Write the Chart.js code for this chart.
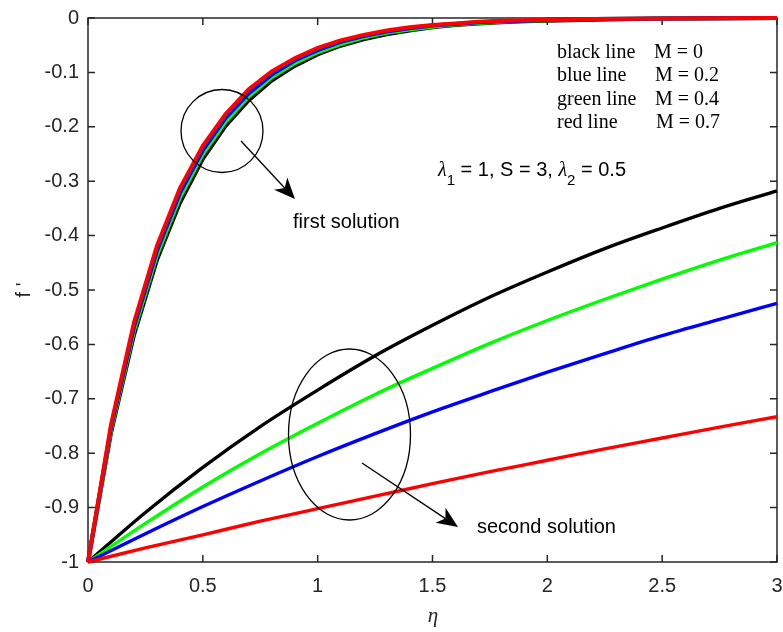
<!DOCTYPE html>
<html>
<head>
<meta charset="utf-8">
<script src="https://cdn.jsdelivr.net/npm/chart.js@4.4.1/dist/chart.umd.min.js"></script>
<style>
  body { margin: 0; background: #fff; }
  #wrap { width: 783px; height: 632px; }
</style>
</head>
<body>
<div id="wrap"><canvas id="myChart"></canvas></div>
<script>
// eta values for the first solution (polyline, 0.1 steps)
const eta1 = [0, 0.1, 0.2, 0.3, 0.4, 0.5, 0.6, 0.7, 0.8, 0.9, 1.0, 1.1, 1.2, 1.3, 1.4, 1.5, 1.6, 1.7, 1.8, 1.9, 2.0, 2.2, 2.5, 3.0];
const black1 = [-1, -0.763, -0.583, -0.445, -0.340, -0.259, -0.198, -0.151, -0.115, -0.088, -0.067, -0.051, -0.039, -0.030, -0.023, -0.017, -0.013, -0.010, -0.008, -0.006, -0.005, -0.003, -0.001, 0];
const green1 = [-1, -0.758, -0.575, -0.436, -0.330, -0.250, -0.190, -0.144, -0.109, -0.083, -0.063, -0.048, -0.036, -0.027, -0.021, -0.016, -0.012, -0.009, -0.007, -0.005, -0.004, -0.002, -0.001, 0];
const blue1 = [-1, -0.753, -0.568, -0.428, -0.322, -0.243, -0.183, -0.138, -0.104, -0.078, -0.059, -0.044, -0.033, -0.025, -0.019, -0.014, -0.011, -0.008, -0.006, -0.005, -0.003, -0.002, -0.001, 0];
const red1 = [-1, -0.748, -0.560, -0.419, -0.313, -0.235, -0.176, -0.131, -0.098, -0.074, -0.055, -0.041, -0.031, -0.023, -0.017, -0.013, -0.010, -0.007, -0.005, -0.004, -0.003, -0.002, -0.001, 0];

// second solution
const eta2 = [0, 0.25, 0.5, 0.75, 1.0, 1.25, 1.5, 1.75, 2.0, 2.25, 2.5, 2.75, 3.0];
const black2 = [-1, -0.909, -0.826, -0.751, -0.684, -0.621, -0.565, -0.513, -0.467, -0.424, -0.386, -0.350, -0.318];
const green2 = [-1, -0.929, -0.862, -0.801, -0.745, -0.692, -0.644, -0.598, -0.556, -0.517, -0.480, -0.445, -0.413];
const blue2 = [-1, -0.948, -0.898, -0.851, -0.806, -0.764, -0.724, -0.687, -0.651, -0.617, -0.584, -0.554, -0.5245];
const red2 = [-1, -0.974, -0.950, -0.925, -0.902, -0.879, -0.856, -0.834, -0.813, -0.792, -0.772, -0.752, -0.733];

const xTickLabels = ["0", "0.5", "1", "1.5", "2", "2.5", "3"];
const yTickLabels = ["-1", "-0.9", "-0.8", "-0.7", "-0.6", "-0.5", "-0.4", "-0.3", "-0.2", "-0.1", "0"];

const legendLines = [["black line", "M = 0"], ["blue line", "M = 0.2"], ["green line", "M = 0.4"], ["red line", "M = 0.7"]];

const axisColor = "#262626";

function puntos(xs, ys) {
  return xs.map((x, i) => ({ x: x, y: ys[i] }));
}

function serie(xs, ys, color, width, orden, smooth) {
  return {
    data: puntos(xs, ys),
    borderColor: color,
    backgroundColor: color,
    borderWidth: width,
    pointRadius: 0,
    tension: smooth ? 0.4 : 0,
    cubicInterpolationMode: smooth ? "monotone" : "default",
    order: orden,
    clip: false
  };
}

const marco = {
  id: "marco",
  beforeDatasetsDraw(chart) {
    const { ctx, chartArea: a, scales } = chart;
    ctx.save();
    ctx.strokeStyle = axisColor;
    ctx.lineWidth = 1.5;
    ctx.strokeRect(a.left, a.top, a.right - a.left, a.bottom - a.top);
    ctx.beginPath();
    scales.x.ticks.forEach(t => {
      const px = scales.x.getPixelForValue(t.value);
      ctx.moveTo(px, a.bottom); ctx.lineTo(px, a.bottom - 7);
      ctx.moveTo(px, a.top); ctx.lineTo(px, a.top + 7);
    });
    scales.y.ticks.forEach(t => {
      const py = scales.y.getPixelForValue(t.value);
      ctx.moveTo(a.left, py); ctx.lineTo(a.left + 7, py);
      ctx.moveTo(a.right, py); ctx.lineTo(a.right - 7, py);
    });
    ctx.stroke();
    ctx.restore();
  }
};

function flecha(ctx, x0, y0, x1, y1) {
  const ang = Math.atan2(y1 - y0, x1 - x0);
  const len = 21, half = 9;
  const bx = x1 - len * Math.cos(ang), by = y1 - len * Math.sin(ang);
  const nx = x1 - 0.72 * len * Math.cos(ang), ny = y1 - 0.72 * len * Math.sin(ang);
  ctx.beginPath();
  ctx.moveTo(x0, y0);
  ctx.lineTo(nx, ny);
  ctx.stroke();
  ctx.beginPath();
  ctx.moveTo(x1, y1);
  ctx.lineTo(bx + half * Math.sin(ang), by - half * Math.cos(ang));
  ctx.lineTo(nx, ny);
  ctx.lineTo(bx - half * Math.sin(ang), by + half * Math.cos(ang));
  ctx.closePath();
  ctx.fill();
}

const notas = {
  id: "notas",
  afterDraw(chart) {
    const ctx = chart.ctx;
    ctx.save();
    ctx.strokeStyle = "#000";
    ctx.fillStyle = "#000";
    ctx.lineWidth = 1.3;

    // circle around first solution
    ctx.beginPath();
    ctx.ellipse(222, 131, 41, 41.5, 0, 0, Math.PI * 2);
    ctx.stroke();
    flecha(ctx, 241, 141, 295, 199);

    // ellipse around second solution
    ctx.beginPath();
    ctx.ellipse(349.5, 434.5, 61, 85.5, 0, 0, Math.PI * 2);
    ctx.stroke();
    flecha(ctx, 362, 463, 458, 527);

    ctx.textBaseline = "alphabetic";
    ctx.textAlign = "left";
    ctx.font = "20px 'Liberation Sans', Arial, sans-serif";
    ctx.fillText("first solution", 293, 227.5);
    ctx.fillText("second solution", 477, 532.5);

    // legend text block
    ctx.font = "20px 'Liberation Serif', 'Times New Roman', serif";
    const bases = [57.5, 81, 104.5, 128];
    const mx = [654, 655, 655, 656];
    legendLines.forEach((l, i) => {
      ctx.fillText(l[0], 557, bases[i]);
      ctx.fillText(l[1], mx[i], bases[i]);
    });

    // parameter line
    let x = 438;
    const base = 176;
    const parts = [
      ["λ", "italic 20px 'Liberation Serif', serif", 0],
      ["1", "15px 'Liberation Sans', sans-serif", 9],
      [" = 1, S = 3, ", "20px 'Liberation Sans', sans-serif", 0],
      ["λ", "italic 20px 'Liberation Serif', serif", 0],
      ["2", "15px 'Liberation Sans', sans-serif", 9],
      [" = 0.5", "20px 'Liberation Sans', sans-serif", 0]
    ];
    parts.forEach(p => {
      ctx.font = p[1];
      ctx.fillText(p[0], x, base + p[2]);
      x += ctx.measureText(p[0]).width;
    });

    // axis titles
    ctx.fillStyle = axisColor;
    ctx.font = "italic 21px 'Liberation Serif', serif";
    ctx.textAlign = "center";
    ctx.fillText("η", 433, 622);

    ctx.translate(30, 290);
    ctx.rotate(-Math.PI / 2);
    ctx.font = "20px 'Liberation Sans', sans-serif";
    ctx.fillText("f '", 0, 0);
    ctx.restore();
  }
};

const tickFont = { family: "'Liberation Sans', Arial, sans-serif", size: 20 };

new Chart(document.getElementById("myChart").getContext("2d"), {
  type: "line",
  data: {
    datasets: [
      serie(eta1, black1, "#000000", 4, 4, false),
      serie(eta1, green1, "#00ff00", 4, 3, false),
      serie(eta1, blue1, "#0000ff", 4, 2, false),
      serie(eta1, red1, "#ff0000", 4, 1, false),
      serie(eta2, black2, "#000000", 3.4, 4, true),
      serie(eta2, green2, "#00ff00", 3.4, 3, true),
      serie(eta2, blue2, "#0000ff", 3.4, 2, true),
      serie(eta2, red2, "#ff0000", 3.4, 1, true)
    ]
  },
  options: {
    responsive: true,
    maintainAspectRatio: false,
    animation: false,
    layout: { padding: { top: 18, right: 6, left: 0, bottom: 0 } },
    plugins: { legend: { display: false }, tooltip: { enabled: false } },
    scales: {
      x: {
        type: "linear",
        min: 0,
        max: 3,
        grid: { display: false, drawTicks: false },
        border: { display: false },
        ticks: {
          stepSize: 0.5, color: axisColor, font: tickFont, padding: 12, maxRotation: 0,
          callback: (v, i) => xTickLabels[i]
        },
        afterFit(scale) {
          scale.height = 70;
          scale.paddingLeft = 0;
          scale.paddingRight = 0;
        }
      },
      y: {
        type: "linear",
        min: -1,
        max: 0,
        grid: { display: false, drawTicks: false },
        border: { display: false },
        ticks: {
          stepSize: 0.1, color: axisColor, font: tickFont, padding: 9,
          callback: (v, i) => yTickLabels[i]
        },
        afterFit(scale) {
          scale.width = 88;
          scale.paddingTop = 0;
          scale.paddingBottom = 0;
        }
      }
    }
  },
  plugins: [marco, notas]
});
</script>
</body>
</html>
